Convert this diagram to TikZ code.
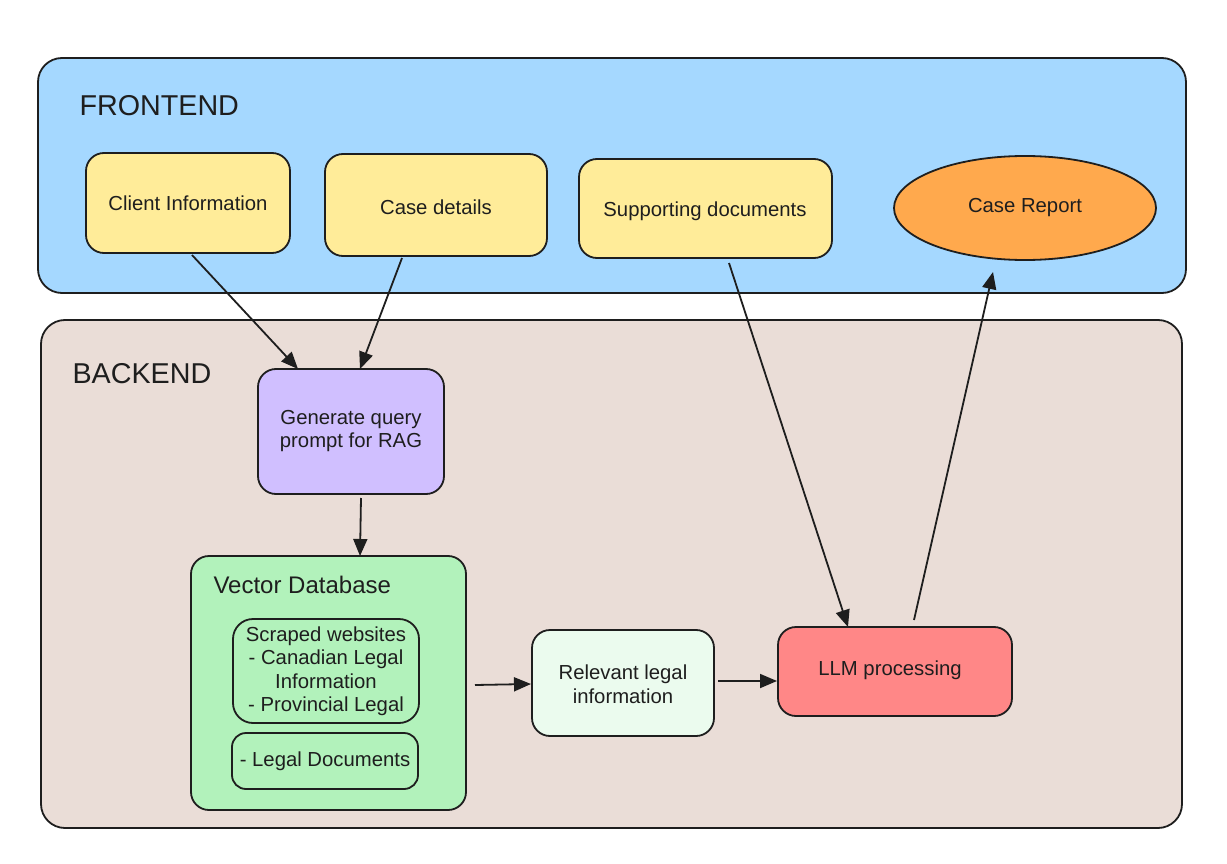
\documentclass[tikz,border=0pt]{standalone}
\usepackage{fontspec}
\setmainfont{Liberation Sans}
\usetikzlibrary{arrows.meta,positioning}
\definecolor{ink}{HTML}{1E1E1E}
\definecolor{fblue}{HTML}{A5D8FF}
\definecolor{bbrown}{HTML}{EADDD7}
\definecolor{byellow}{HTML}{FFEC99}
\definecolor{bpurple}{HTML}{D0BFFF}
\definecolor{bgreen}{HTML}{B2F2BB}
\definecolor{blgreen}{HTML}{EBFBEE}
\definecolor{bred}{HTML}{FF8787}
\definecolor{borange}{HTML}{FFA94D}
\tikzset{
  x=1pt,y=-1pt,
  frame/.style={draw=ink,line width=1.8pt,rounded corners=24pt},
  rbox/.style={draw=ink,line width=1.8pt,rounded corners=18pt},
  lbl/.style={font=\fontsize{20.3}{23.5}\selectfont,text=ink,align=center},
  title/.style={font=\fontsize{28.7}{32}\selectfont,text=ink,anchor=west},
  conn/.style={draw=ink,line width=1.8pt,-{Triangle[length=17pt,width=14pt]}}
}
\begin{document}
\begin{tikzpicture}
\useasboundingbox (0,0) rectangle (1227,864);
\fill[white] (0,0) rectangle (1227,864);
% frames
\path[frame,fill=fblue] (38,58) rectangle (1186,293);
\path[frame,fill=bbrown] (41,320) rectangle (1182,828);
\node[title] (fe) at (76,106) {FRONTEND};
\node[title] (be) at (69,374) {BACKEND};
% frontend nodes
\path[rbox,fill=byellow] (86,153) rectangle (290,253);
\node[lbl] (ci) at (188,203) {Client Information};
\path[rbox,fill=byellow] (325,154) rectangle (547,256);
\node[lbl] (cd) at (436,207) {Case details};
\path[rbox,fill=byellow] (579,159) rectangle (832,258);
\node[lbl] (sd) at (705,211) {Supporting documents};
\draw[draw=ink,line width=1.8pt,fill=borange] (1025,208) ellipse [x radius=131,y radius=52];
\node[lbl] (cr) at (1025,208) {Case Report};
% backend nodes
\path[rbox,fill=bpurple] (258,369) rectangle (444,494);
\node[lbl] (gq) at (351,431) {Generate query\\prompt for RAG};
\path[rbox,fill=bgreen] (191,556) rectangle (466,810);
\node[font=\fontsize{24}{28}\selectfont,text=ink,anchor=west] (vd) at (210,585) {Vector Database};
\path[rbox,rounded corners=20pt,fill=bgreen] (233,619) rectangle (419,723);
\node[lbl] (sw) at (326,671) {Scraped websites\\- Canadian Legal\\Information\\- Provincial Legal};
\path[rbox,rounded corners=14pt,fill=bgreen] (232,733) rectangle (418,789);
\node[lbl] (ld) at (325,761) {- Legal Documents};
\path[rbox,fill=blgreen] (532,630) rectangle (714,736);
\node[lbl] (rl) at (623,684) {Relevant legal\\information};
\path[rbox,fill=bred] (778,627) rectangle (1012,716);
\node[lbl] (llm) at (890,670) {LLM processing};
% connector anchor points
\coordinate (a1s) at (192,255); \coordinate (a1e) at (298,369);
\coordinate (a2s) at (402,258); \coordinate (a2e) at (360,369);
\coordinate (a3s) at (361,498); \coordinate (a3e) at (360,556);
\coordinate (a4s) at (475,685); \coordinate (a4e) at (531,684);
\coordinate (a5s) at (718,681); \coordinate (a5e) at (777,681);
\coordinate (a6s) at (729,263); \coordinate (a6e) at (848,627);
\coordinate (a7s) at (914,620); \coordinate (a7e) at (993,272);
\draw[conn] (a1s) -- (a1e);
\draw[conn] (a2s) -- (a2e);
\draw[conn] (a3s) -- (a3e);
\draw[conn] (a4s) -- (a4e);
\draw[conn] (a5s) -- (a5e);
\draw[conn] (a6s) -- (a6e);
\draw[conn] (a7s) -- (a7e);
\end{tikzpicture}
\end{document}
